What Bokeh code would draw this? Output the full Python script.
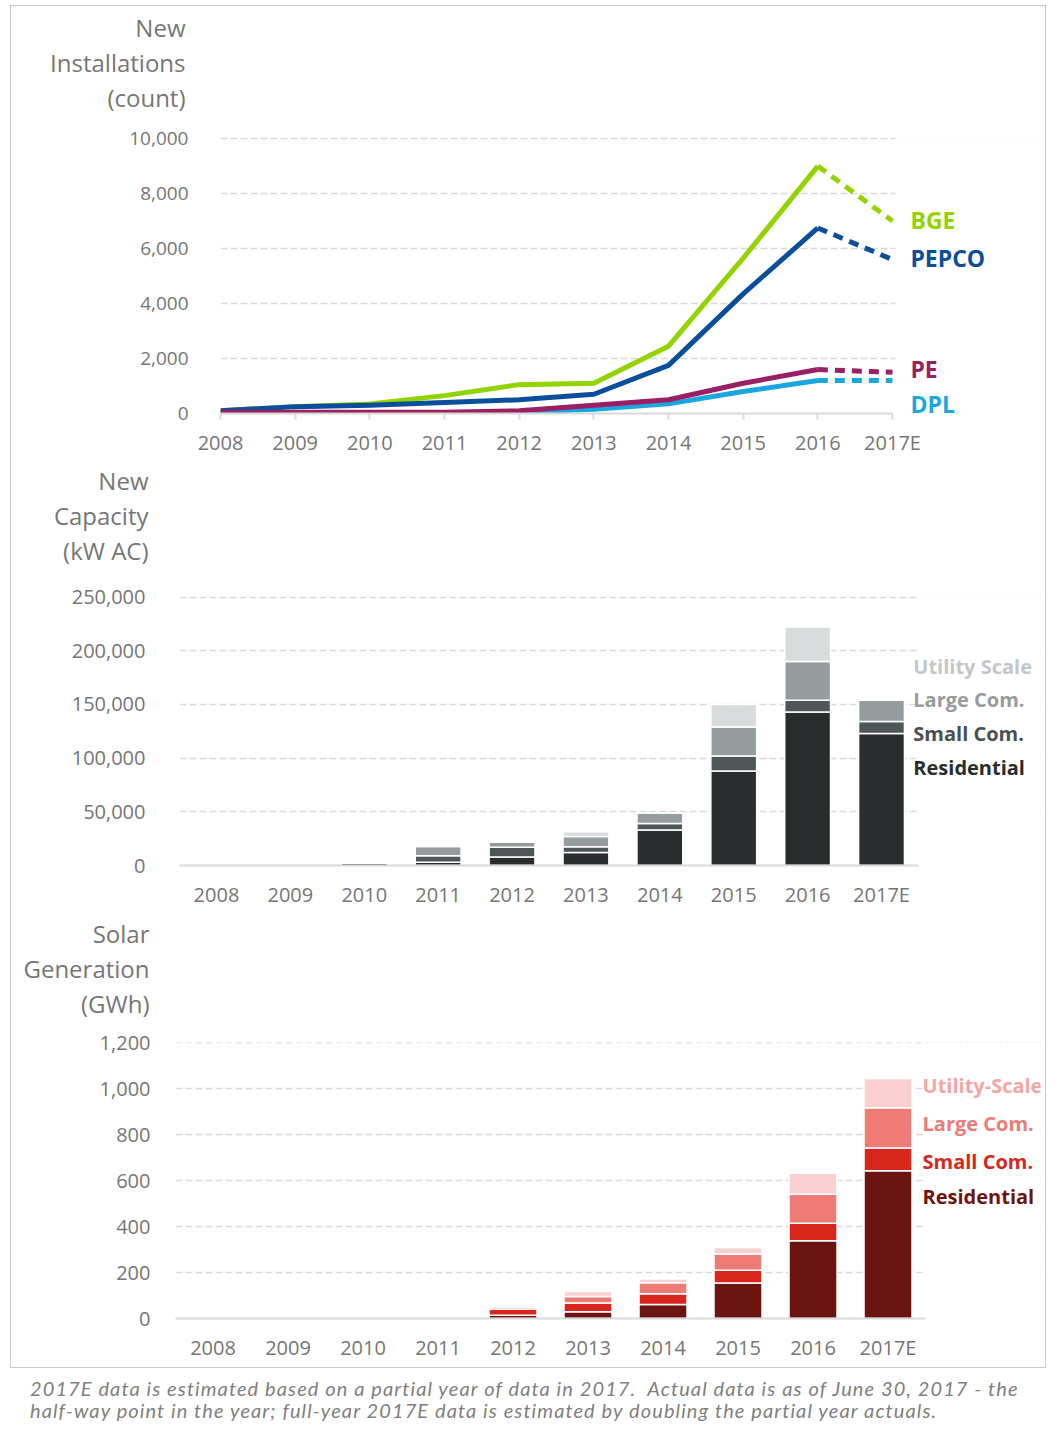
from bokeh.plotting import figure
from bokeh.models import (Range1d, FixedTicker, NumeralTickFormatter, Label, Div, Title,
                          BoxAnnotation, ColumnDataSource)
from bokeh.layouts import column
from bokeh.embed import file_html
from bokeh.resources import INLINE

# ---------------- data ----------------
years = ["2008", "2009", "2010", "2011", "2012", "2013", "2014", "2015", "2016", "2017E"]

# New installations (count)
bge = [100, 250, 350, 650, 1050, 1100, 2450, 5650, 9000, 7000]
pepco = [100, 250, 300, 400, 500, 700, 1750, 4350, 6750, 5600]
pe = [50, 50, 50, 50, 100, 300, 500, 1100, 1600, 1500]
dpl = [30, 30, 30, 30, 50, 150, 350, 800, 1200, 1200]

# New capacity (kW AC)
cap_res = [0, 0, 2000, 3000, 8000, 12000, 33000, 88000, 143000, 123000]
cap_small = [0, 0, 0, 6000, 9000, 5500, 6000, 14000, 11000, 11000]
cap_large = [0, 0, 0, 8600, 5000, 9500, 10000, 27000, 36000, 20000]
cap_util = [0, 0, 0, 0, 0, 4500, 0, 21000, 32000, 0]

# Solar generation (GWh)
gen_res = [0, 0, 0, 0, 14, 29, 61, 155, 338, 643]
gen_small = [0, 0, 0, 0, 27, 38, 47, 55, 77, 99]
gen_large = [0, 0, 0, 0, 9, 29, 48, 71, 126, 175]
gen_util = [0, 0, 0, 0, 8, 21, 16, 28, 91, 127]

# ---------------- styles ----------------
FONT = "Open Sans"
TXT = "#767676"
GRID = "#d9d9d9"
BORDER = "1px solid #c8c8c8"
W = 1034


def base_style(p, ystandoff=30, xstandoff=14, ysize="19px"):
    p.outline_line_color = None
    p.background_fill_color = "white"
    p.border_fill_color = "white"
    p.xgrid.grid_line_color = None
    p.ygrid.grid_line_color = GRID
    p.ygrid.grid_line_dash = "7 3"
    p.ygrid.grid_line_width = 1.5
    p.yaxis.axis_line_color = None
    p.yaxis.major_tick_line_color = None
    p.yaxis.minor_tick_line_color = None
    p.yaxis.major_tick_out = 0
    p.yaxis.major_label_text_font = FONT
    p.yaxis.major_label_text_font_size = ysize
    p.yaxis.major_label_text_color = TXT
    p.yaxis.major_label_standoff = ystandoff
    p.yaxis.formatter = NumeralTickFormatter(format="0,0")
    p.xaxis.axis_line_color = GRID
    p.xaxis.axis_line_width = 2
    p.xaxis.major_label_text_font = FONT
    p.xaxis.major_label_text_font_size = "20px"
    p.xaxis.major_label_text_color = TXT
    p.xaxis.major_label_standoff = xstandoff
    p.xaxis.minor_tick_line_color = None


def add_titles(p, lines, offset, spacer):
    # the first title added sits nearest the plot frame
    p.add_layout(Title(text=" ", align="right", standoff=spacer, text_font_size="8px"), "above")
    for t in reversed(lines):
        p.add_layout(Title(text=t, align="right", offset=offset, standoff=0,
                           text_font=FONT, text_font_size="24px", text_font_style="normal",
                           text_color=TXT), "above")


def add_mask(p, left):
    p.add_layout(BoxAnnotation(left=left, fill_color="white", fill_alpha=1.0,
                               line_color=None, line_alpha=0))


def add_tag(p, text, x, y, color, size):
    p.add_layout(Label(x=x, y=y, text=text, text_align="left", text_baseline="middle",
                       text_font=FONT, text_font_size=size, text_font_style="bold",
                       text_color=color))


# ---------------- chart 1: installations ----------------
idx = list(range(len(years)))
p1 = figure(width=W, height=454, x_range=Range1d(0, 10.982), y_range=Range1d(0, 10040),
            output_backend="svg", toolbar_location=None,
            min_border_left=209, min_border_right=5, min_border_top=131, min_border_bottom=47)
base_style(p1, ystandoff=32, xstandoff=9)
p1.yaxis.ticker = FixedTicker(ticks=[0, 2000, 4000, 6000, 8000, 10000])
p1.xaxis.ticker = FixedTicker(ticks=idx)
p1.xaxis.major_label_overrides = {i: y for i, y in enumerate(years)}
p1.xaxis.bounds = (0, 9)
p1.xaxis.major_tick_line_color = GRID
p1.xaxis.major_tick_line_width = 2
p1.xaxis.major_tick_out = 6
p1.xaxis.major_tick_in = 0

series = [("DPL", dpl, "#1aa7e0"), ("BGE", bge, "#92d400"),
          ("PEPCO", pepco, "#0b4f9c"), ("PE", pe, "#9b1f63")]
for name, vals, col in series:
    p1.line(idx[:9], vals[:9], line_color=col, line_width=5, line_join="round")
    p1.line(idx[8:], vals[8:], line_color=col, line_width=5, line_dash="10 7")

add_mask(p1, 9.04)
add_tag(p1, "BGE", 9.24, 7055, "#92d400", "23px")
add_tag(p1, "PEPCO", 9.24, 5673, "#0b4f9c", "23px")
add_tag(p1, "PE", 9.24, 1636, "#9b1f63", "23px")
add_tag(p1, "DPL", 9.24, 340, "#1aa7e0", "23px")
add_titles(p1, ["New", "Installations", "(count)"], 1040 - 185, 13)

# ---------------- chart 2: capacity ----------------
xc = [i + 0.5 for i in idx]
src2 = ColumnDataSource(dict(x=xc, res=cap_res, small=cap_small, large=cap_large, util=cap_util))
p2 = figure(width=W, height=452, x_range=Range1d(0, 11.651), y_range=Range1d(0, 250500),
            output_backend="svg", toolbar_location=None,
            min_border_left=168, min_border_right=5, min_border_top=136, min_border_bottom=47)
base_style(p2, ystandoff=34, xstandoff=15, ysize="20px")
p2.yaxis.ticker = FixedTicker(ticks=[0, 50000, 100000, 150000, 200000, 250000])
p2.xaxis.ticker = FixedTicker(ticks=xc)
p2.xaxis.major_label_overrides = {x: y for x, y in zip(xc, years)}
p2.xaxis.bounds = (0, 10)
p2.xaxis.major_tick_line_color = None
p2.xaxis.major_tick_out = 0
p2.xaxis.major_tick_in = 0
p2.vbar_stack(["res", "small", "large", "util"], x="x", width=0.62, source=src2,
              color=["#2a2d2e", "#4f5658", "#959c9e", "#d9dcdd"],
              line_color="white", line_width=1.5)
add_mask(p2, 10.0)
add_tag(p2, "Utility Scale", 9.93, 184944, "#c3c7c9", "20px")
add_tag(p2, "Large Com.", 9.93, 154275, "#969c9e", "20px")
add_tag(p2, "Small Com.", 9.93, 122677, "#4a5052", "20px")
add_tag(p2, "Residential", 9.93, 91078, "#2a2d2e", "20px")
add_titles(p2, ["New", "Capacity", "(kW AC)"], 1040 - 148, 19)

# ---------------- chart 3: generation ----------------
src3 = ColumnDataSource(dict(x=xc, res=gen_res, small=gen_small, large=gen_large, util=gen_util))
p3 = figure(width=W, height=455, x_range=Range1d(0, 11.533), y_range=Range1d(0, 1201),
            output_backend="svg", toolbar_location=None,
            min_border_left=164, min_border_right=5, min_border_top=130, min_border_bottom=49)
base_style(p3, ystandoff=25, xstandoff=15, ysize="20px")
p3.yaxis.ticker = FixedTicker(ticks=[0, 200, 400, 600, 800, 1000, 1200])
p3.xaxis.ticker = FixedTicker(ticks=xc)
p3.xaxis.major_label_overrides = {x: y for x, y in zip(xc, years)}
p3.xaxis.bounds = (0, 10)
p3.xaxis.major_tick_line_color = None
p3.xaxis.major_tick_out = 0
p3.xaxis.major_tick_in = 0
p3.vbar_stack(["res", "small", "large", "util"], x="x", width=0.64, source=src3,
              color=["#6b1410", "#d9261c", "#ef7b77", "#f8d0cf"],
              line_color="white", line_width=1.5)
add_mask(p3, 10.0)
add_tag(p3, "Utility-Scale", 9.96, 1013, "#f4a6a4", "20px")
add_tag(p3, "Large Com.", 9.96, 848, "#ef7b77", "20px")
add_tag(p3, "Small Com.", 9.96, 683, "#d9261c", "20px")
add_tag(p3, "Residential", 9.96, 530, "#6b1410", "20px")
add_titles(p3, ["Solar", "Generation", "(GWh)"], 1040 - 149, 12)

c1 = column(p1, styles={"border-top": BORDER, "border-left": BORDER, "border-right": BORDER,
                        "margin-left": "10px", "margin-top": "5px"})
c2 = column(p2, styles={"border-left": BORDER, "border-right": BORDER, "margin-left": "10px"})
c3 = column(p3, styles={"border-left": BORDER, "border-right": BORDER, "border-bottom": BORDER,
                        "margin-left": "10px"})

note = Div(text=('<div style="font-family: Lato; font-style: italic; font-size: 20px; '
                 'letter-spacing: 1.1px; color: #7f7f7f; line-height: 22px; '
                 'padding: 4px 0 0 25px; white-space: nowrap;">'
                 '2017E data is estimated based on a partial year of data in 2017.&nbsp; Actual data is as of '
                 'June 30, 2017 - the<br>half-way point in the year; full-year 2017E data is estimated by '
                 'doubling the partial year actuals.</div>'),
           width=1045, height=62)

with open("out.html", "w") as f:
    f.write(file_html([c1, c2, c3, note], INLINE))
